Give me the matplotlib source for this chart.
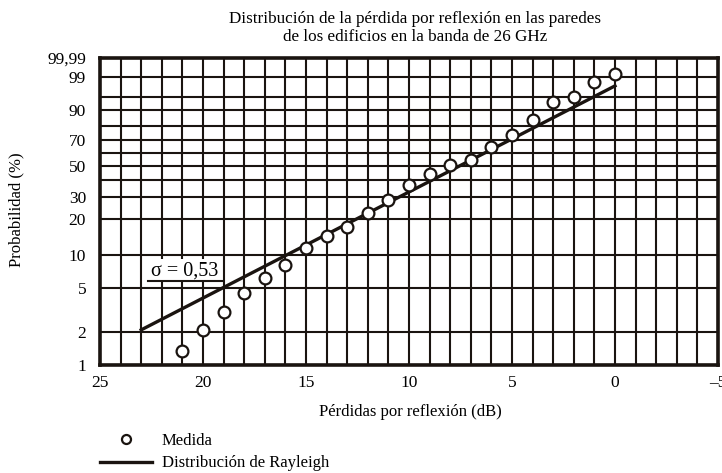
import numpy as np
import matplotlib
matplotlib.use("Agg")
from matplotlib import pyplot as plt
from matplotlib.lines import Line2D

plt.rcParams['font.family'] = ['Liberation Serif', 'DejaVu Serif']

# measured points: reflection loss (dB) and cumulative probability (%)
perdidas = [21, 20, 19, 18, 17, 16, 15, 14, 13, 12, 11, 10, 9, 8, 7, 6, 5, 4, 3, 2, 1, 0]
prob_medida = [1.35, 2.08, 3.05, 4.5, 6.2, 8.05, 11.45, 14.6, 17.4, 22.7, 28.8, 37.2,
               44.5, 51.0, 54.7, 64.7, 74.0, 84.3, 93.3, 95.1, 98.4, 99.3]

# Rayleigh fit (sigma = 0.53), end points
rayleigh_x = [23, 0]
rayleigh_p = [2.1, 97.8]

ytick_vals = [1, 2, 5, 10, 20, 30, 50, 70, 90, 99, 99.9]
ytick_labels = ['1', '2', '5', '10', '20', '30', '50', '70', '90', '99', '99,99']
ygrid_minor = [40, 60, 80, 95]
xtick_vals = [25, 20, 15, 10, 5, 0, -5]
xtick_labels = ['25', '20', '15', '10', '5', '0', '\u20135']


def fwd(p):
    p = np.clip(np.asarray(p, dtype=float), 1e-6, 100 - 1e-6)
    return np.log10(-np.log(1 - p / 100.0))


def inv(y):
    y = np.asarray(y, dtype=float)
    return 100.0 * (1 - np.exp(-10.0 ** y))


W, H = 722, 473
fig = plt.figure(figsize=(W / 100, H / 100), dpi=100)
ax = fig.add_axes([100 / W, 1 - 365 / H, 618 / W, 307 / H])

ax.set_yscale('function', functions=(fwd, inv))
ax.set_xlim(25, -5)
ax.set_ylim(1, 99.9)

ax.set_xticks(xtick_vals)
ax.set_xticklabels(xtick_labels)
ax.set_xticks(range(-5, 26), minor=True)
ax.set_yticks(ytick_vals)
ax.set_yticklabels(ytick_labels)
ax.set_yticks(ygrid_minor, minor=True)
ax.yaxis.set_minor_formatter(plt.NullFormatter())

ax.grid(True, which='both', color='#1a1410', lw=1.5, zorder=0)
ax.set_axisbelow(True)
ax.tick_params(which='both', length=0)
ax.tick_params(axis='x', labelsize=12.5, pad=7)
ax.tick_params(axis='y', labelsize=12.5, pad=10)
for s in ax.spines.values():
    s.set_linewidth(2.6)
    s.set_color('#1a1410')

ln, = ax.plot(rayleigh_x, rayleigh_p, color='#1a1410', lw=2.4, zorder=3)
pts, = ax.plot(perdidas, prob_medida, 'o', ms=8.5, mfc='white', mec='#1a1410',
               mew=1.6, zorder=4)

ax.text(20.9, 7.2, '\u03c3 = 0,53', fontsize=14.5, ha='center', va='center',
        zorder=5, bbox=dict(fc='white', ec='none', pad=1.5))
ax.add_line(Line2D([0.078, 0.198], [0.274, 0.274], transform=ax.transAxes,
                   color='#1a1410', lw=1.5, zorder=6))

fig.text(415 / W, 1 - 28 / H,
         'Distribución de la pérdida por reflexión en las paredes\n'
         'de los edificios en la banda de 26 GHz',
         ha='center', va='center', fontsize=12.3, linespacing=1.15)
fig.text(16 / W, 1 - 210 / H, 'Probabilidad (%)', rotation=90,
         ha='center', va='center', fontsize=12)
fig.text(410 / W, 1 - 412 / H, 'Pérdidas por reflexión (dB)',
         ha='center', va='center', fontsize=12)

leg_pt = Line2D([], [], ls='none', marker='o', ms=6.5, mfc='white',
                mec='#1a1410', mew=1.6)
leg_ln = Line2D([], [], color='#1a1410', lw=2.4)
fig.legend([leg_pt, leg_ln], ['Medida', 'Distribución de Rayleigh'],
           loc='upper left', bbox_to_anchor=(100 / W, 1 - 433 / H),
           frameon=False, fontsize=12, handlelength=3.1, handletextpad=0.6,
           labelspacing=0.38, borderpad=0, borderaxespad=0)

fig.savefig('out.png', dpi=100)
